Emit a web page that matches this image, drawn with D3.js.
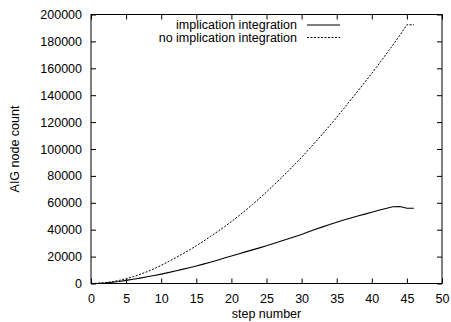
<!DOCTYPE html>
<html>
<head>
<meta charset="utf-8">
<script src="https://cdn.jsdelivr.net/npm/d3@7"></script>
<style>
  body { margin: 0; background: #fff; }
  text { font-family: "Liberation Sans", Arial, Helvetica, sans-serif; font-size: 12.5px; fill: #000; }
</style>
</head>
<body>
<div id="chart"></div>
<script>

// step numbers 0..46
var steps = d3.range(0, 47);

// AIG node count, implication integration
var withImpl = [
    0, 100, 400, 900, 1500, 2300, 3100, 4000, 5000, 6000,
    7000, 8100, 9300, 10500, 11700, 13000, 14400, 15800, 17300, 18900,
    20500, 22000, 23500, 25000, 26500, 28000, 29700, 31400, 33100, 34800,
    36500, 38400, 40300, 42100, 43900, 45600, 47200, 48700, 50200, 51600,
    53000, 54400, 55800, 57100, 57300, 55900, 55900
];

// AIG node count, no implication integration
var noImpl = [
    0, 200, 600, 1300, 2300, 3500, 5000, 6800, 8800, 11000,
    13500, 16200, 19000, 21900, 24900, 28000, 31400, 34900, 38500, 42200,
    46000, 50100, 54300, 58700, 63300, 68000, 73000, 78000, 83100, 88400,
    93800, 99500, 105300, 111200, 117300, 123600, 130000, 136500, 143000, 149600,
    156300, 163200, 170200, 177300, 184600, 192400, 192400
];

var seriesNames = ["implication integration", "no implication integration"];
var xTicks = d3.range(0, 51, 5);
var yTicks = d3.range(0, 200001, 20000);

var width = 451, height = 322;
var plotLeft = 91, plotRight = 442, plotTop = 14.5, plotBottom = 283.5;

//Make an SVG Container
var svg = d3.select("#chart").append("svg")
            .attr("width", width)
            .attr("height", height);

var x = d3.scaleLinear().domain([0, 50]).range([plotLeft, plotRight]);
var y = d3.scaleLinear().domain([0, 200000]).range([plotBottom, plotTop]);

var tick = 5;

// axes: labels only on left/bottom, ticks pointing inward on all four sides
svg.append("g")
   .attr("transform", "translate(0," + plotBottom + ")")
   .call(d3.axisBottom(x).tickValues(xTicks).tickSize(-tick).tickPadding(tick + 6));
svg.append("g")
   .attr("transform", "translate(0," + plotTop + ")")
   .call(d3.axisTop(x).tickValues(xTicks).tickSize(-tick).tickFormat(""));
svg.append("g")
   .attr("transform", "translate(" + plotLeft + ",0)")
   .call(d3.axisLeft(y).tickValues(yTicks).tickSize(-tick).tickPadding(tick + 4).tickFormat(d3.format("d")));
svg.append("g")
   .attr("transform", "translate(" + plotRight + ",0)")
   .call(d3.axisRight(y).tickValues(yTicks).tickSize(-tick).tickFormat(""));

svg.selectAll(".domain").remove();
svg.selectAll(".tick line").attr("stroke", "#000");
svg.selectAll("g[font-size]").attr("font-size", null).attr("font-family", null);

// frame
svg.append("rect")
   .attr("x", plotLeft)
   .attr("y", plotTop)
   .attr("width", plotRight - plotLeft)
   .attr("height", plotBottom - plotTop)
   .attr("fill", "none")
   .attr("stroke", "#000")
   .attr("stroke-width", 1);

// series lines
var line = d3.line()
             .x(function(d, i){ return x(steps[i]); })
             .y(function(d){ return y(d); });

var dashes = [null, "2,1.5"];

svg.append("path")
   .datum(withImpl)
   .attr("d", line)
   .attr("fill", "none")
   .attr("stroke", "#000")
   .attr("stroke-width", 1.1);

svg.append("path")
   .datum(noImpl)
   .attr("d", line)
   .attr("fill", "none")
   .attr("stroke", "#000")
   .attr("stroke-width", 1)
   .attr("stroke-dasharray", dashes[1]);

// legend
var legend = svg.append("g").attr("class", "legend");
seriesNames.forEach(function(name, i){
    var ly = 25 + i * 12.5;
    legend.append("text")
          .attr("x", 297)
          .attr("y", ly)
          .attr("dy", "0.35em")
          .attr("text-anchor", "end")
          .text(name);
    legend.append("line")
          .attr("x1", 307)
          .attr("x2", 340)
          .attr("y1", ly)
          .attr("y2", ly)
          .attr("stroke", "#000")
          .attr("stroke-width", i == 0 ? 1.1 : 1)
          .attr("stroke-dasharray", dashes[i]);
});

// axis titles
svg.append("text")
   .attr("x", (plotLeft + plotRight) / 2)
   .attr("y", 318)
   .attr("text-anchor", "middle")
   .text("step number");

svg.append("text")
   .attr("transform", "translate(19," + ((plotTop + plotBottom) / 2) + ") rotate(-90)")
   .attr("text-anchor", "middle")
   .text("AIG node count");

</script>
</body>
</html>
